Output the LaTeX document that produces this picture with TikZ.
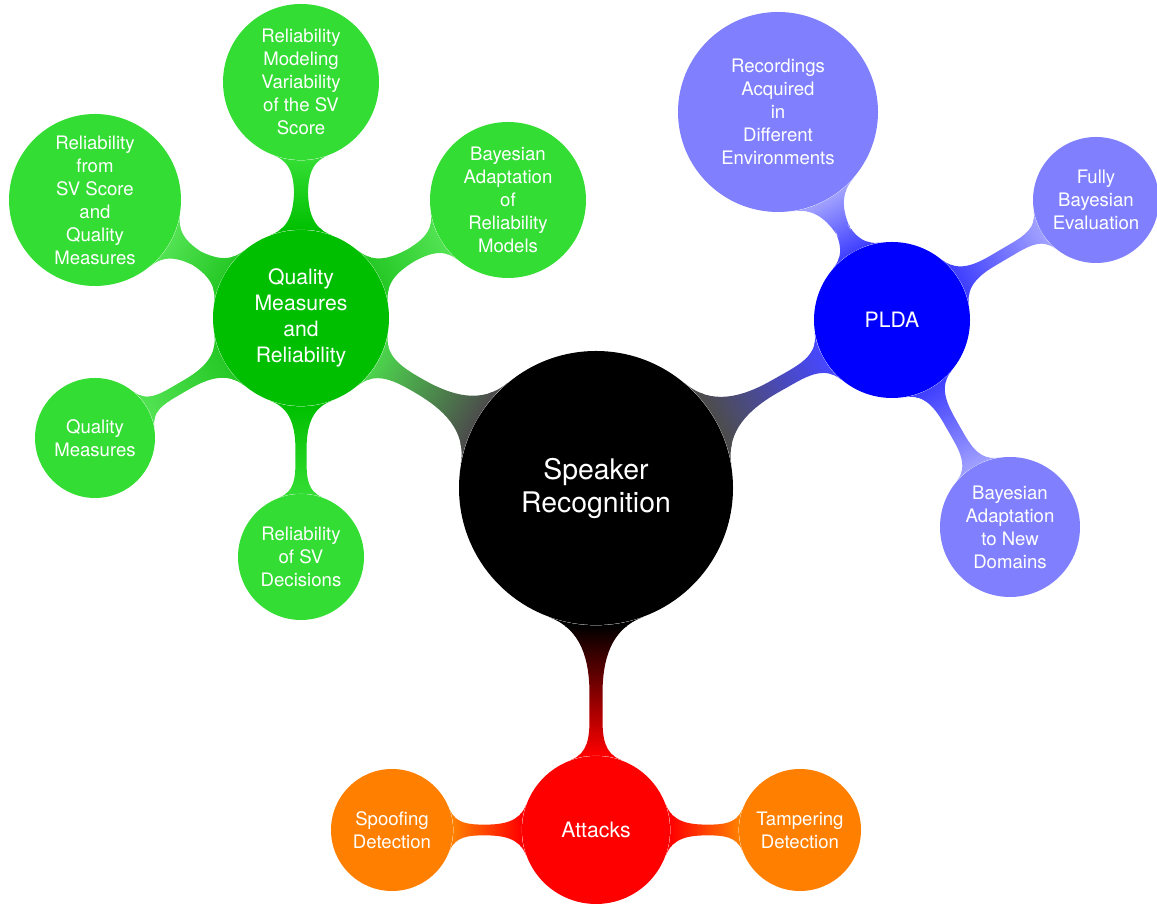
\documentclass[tikz,border=0pt]{standalone}
\usepackage{fontspec}
\setmainfont{TeX Gyre Heros}
\usetikzlibrary{mindmap}
\definecolor{qgreen}{HTML}{00BF00}
\definecolor{lgreen}{HTML}{33DD33}
\definecolor{lblue}{HTML}{8080FF}
\definecolor{lorange}{HTML}{FF8000}

\begin{document}
\begin{tikzpicture}[x=0.5pt, y=0.5pt, text=white,
    rootc/.style={circle, draw=none, fill=black, inner sep=0pt, align=center, minimum size=137pt, font=\fontsize{14.2}{16.5}\selectfont},
    topic/.style={circle, draw=none, inner sep=0pt, align=center, font=\fontsize{10.6}{13}\selectfont},
    sub/.style={circle, draw=none, inner sep=0pt, align=center, font=\fontsize{9.3}{11.5}\selectfont},
]
    \useasboundingbox (0,0) rectangle (1157,909);
    % Root
    \node[rootc] (sr) at (596,421) {Speaker\\Recognition};
    % Main branches
    \node[topic, fill=qgreen, minimum size=88pt] (qmr) at (301,591) {Quality\\Measures\\and\\Reliability};
    \node[topic, fill=blue, minimum size=78pt] (plda) at (892,589) {PLDA};
    \node[topic, fill=red, minimum size=74pt] (att) at (596,79) {Attacks};
    % Quality branch
    \node[sub, fill=lgreen, minimum size=78pt] (rmv) at (301,827) {Reliability\\Modeling\\Variability\\of the SV\\Score};
    \node[sub, fill=lgreen, minimum size=78pt] (bar) at (508,709) {Bayesian\\Adaptation\\of\\Reliability\\Models};
    \node[sub, fill=lgreen, minimum size=86pt] (rsq) at (95,709) {Reliability\\from\\SV Score\\and\\Quality\\Measures};
    \node[sub, fill=lgreen, minimum size=60pt] (qm) at (95,471) {Quality\\Measures};
    \node[sub, fill=lgreen, minimum size=63pt] (rsd) at (301,352) {Reliability\\of SV\\Decisions};
    % PLDA branch
    \node[sub, fill=lblue, minimum size=100pt] (rad) at (778,797) {Recordings\\Acquired\\in\\Different\\Environments};
    \node[sub, fill=lblue, minimum size=63pt] (fbe) at (1096,709) {Fully\\Bayesian\\Evaluation};
    \node[sub, fill=lblue, minimum size=70pt] (band) at (1010,382) {Bayesian\\Adaptation\\to New\\Domains};
    % Attacks branch
    \node[sub, fill=lorange, minimum size=61pt] (sd) at (392,79) {Spoofing\\Detection};
    \node[sub, fill=lorange, minimum size=61pt] (td) at (800,79) {Tampering\\Detection};
    % Bars (slanted ones come out paler)
    \foreach \a/\b/\ca/\cb in {sr/qmr/black!70!white/qgreen!70!white, sr/plda/black!70!white/blue!72!white, sr/att/black/red,
        qmr/rmv/qgreen/lgreen, qmr/bar/qgreen!85!white/lgreen!85!white, qmr/rsq/qgreen!85!white/lgreen!85!white,
        qmr/qm/qgreen!85!white/lgreen!85!white, qmr/rsd/qgreen/lgreen,
        plda/rad/blue!75!white/lblue!75!white, plda/fbe/blue!75!white/lblue!75!white, plda/band/blue!75!white/lblue!75!white,
        att/sd/red/lorange, att/td/red/lorange}
        \path (\a) to[circle connection bar switch color=from (\ca) to (\cb)] (\b);
\end{tikzpicture}
\end{document}
